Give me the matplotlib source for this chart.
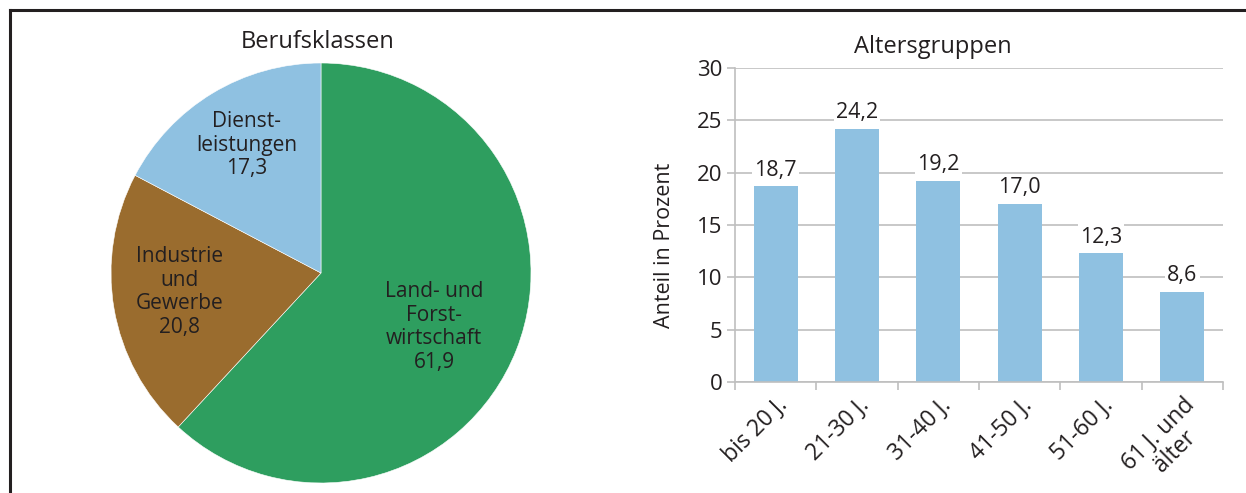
#!/usr/bin/env python
"""Berufsklassen (pie) and Altersgruppen (bar) figure."""
import numpy as np
import matplotlib.pyplot as plt
from matplotlib.lines import Line2D

plt.rcParams["font.family"] = ["Open Sans", "DejaVu Sans"]

TEXT = "#231F20"
GRID = "#BFBFBF"

# ------
# Data
pie_labels = [
    "Land- und\nForst-\nwirtschaft\n61,9",
    "Industrie\nund\nGewerbe\n20,8",
    "Dienst-\nleistungen\n17,3",
]
pie_values = [61.9, 20.8, 17.3]
pie_colors = ["#2E9E5F", "#9A6C2E", "#8FC1E1"]

age_groups = ["bis 20 J.", "21-30 J.", "31-40 J.", "41-50 J.", "51-60 J.", "61 J. und\nälter"]
age_values = [18.7, 24.2, 19.2, 17.0, 12.3, 8.6]
age_text = ["18,7", "24,2", "19,2", "17,0", "12,3", "8,6"]

# ------
# Build figure
W, H = 1246, 493
fig = plt.figure(figsize=(W / 100, H / 100), dpi=100)


def fx(px):
    return px / W


def fy(py):
    return 1 - py / H


# frame (top and left border)
fig.add_artist(Line2D([fx(10), 1], [fy(10), fy(10)], color="#231F20", lw=2.2))
fig.add_artist(Line2D([fx(10), fx(10)], [fy(10), 0], color="#231F20", lw=2.2))

# pie
r = 210
ax_pie = fig.add_axes([fx(321 - r), fy(273 + r), 2 * r / W, 2 * r / H])
ax_pie.pie(
    pie_values,
    colors=pie_colors,
    startangle=90,
    counterclock=False,
    wedgeprops=dict(edgecolor="white", linewidth=0.4),
)
ax_pie.set_xlim(-1, 1)
ax_pie.set_ylim(-1, 1)
ax_pie.set_aspect("auto")
ax_pie.axis("off")

label_pos = [(434, 327), (180, 292), (247, 145)]
for lab, (px, py) in zip(pie_labels, label_pos):
    fig.text(fx(px), fy(py), lab, ha="center", va="center", fontsize=15,
             color=TEXT, linespacing=1.15)
fig.text(fx(318), fy(42), "Berufsklassen", ha="center", va="center",
         fontsize=17, color=TEXT)

# bars
ax = fig.add_axes([fx(735), fy(382), (1223 - 735) / W, (382 - 68) / H])
x = np.arange(len(age_values))
bars = ax.bar(x, age_values, width=0.54, color="#8FC1E1", zorder=2)
for rect, t in zip(bars, age_text):
    ax.text(rect.get_x() + rect.get_width() / 2, rect.get_height() + 0.55, t,
            ha="center", va="bottom", fontsize=15.5, color=TEXT, zorder=3,
            bbox=dict(facecolor="white", edgecolor="none", pad=1.5))

ax.set_xlim(-0.5, len(age_values) - 0.5)
ax.set_ylim(0, 30)
ax.set_yticks(np.arange(0, 31, 5))
ax.yaxis.grid(True, color=GRID, lw=1.2, zorder=0)
ax.set_axisbelow(True)
for side in ["top", "right"]:
    ax.spines[side].set_visible(False)
for side in ["left", "bottom"]:
    ax.spines[side].set_color(GRID)
    ax.spines[side].set_linewidth(1.2)

ax.set_xticks(x)
ax.set_xticklabels(age_groups, rotation=45, ha="right", rotation_mode="anchor",
                   multialignment="center", fontsize=16.5, color=TEXT,
                   linespacing=1.0)
ax.set_xticks(np.arange(-0.5, len(age_values)), minor=True)
ax.tick_params(axis="x", which="major", length=0, pad=8)
ax.tick_params(axis="x", which="minor", length=6, width=1.2, color=GRID)
ax.tick_params(axis="y", length=6, width=1.2, color=GRID, labelsize=16,
               labelcolor=TEXT, pad=3)

# y label sits a bit lower than the axes centre in the original
fig.text(fx(665), fy(245), "Anteil in Prozent", rotation=90, ha="center",
         va="center", fontsize=15.5, color=TEXT)

fig.text(fx(933), fy(47), "Altersgruppen", ha="center", va="center",
         fontsize=17, color=TEXT)

fig.savefig("out.png", dpi=100)
